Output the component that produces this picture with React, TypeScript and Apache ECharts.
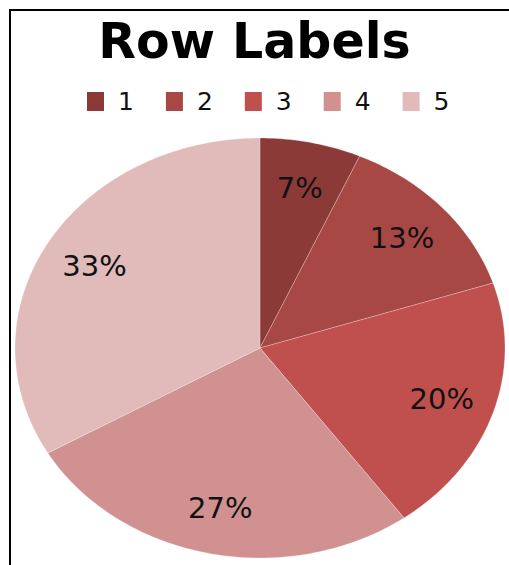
import React, { useEffect, useRef } from "react";
import * as echarts from "echarts";

const CATEGORIES = ["1", "2", "3", "4", "5"];
const VALUES = [1, 2, 3, 4, 5];
const COLORS = ["#8C3A38", "#A84845", "#C0504D", "#D19190", "#E0BBBA"];
const TITLE = "Row Labels";

const CX = 260;
const CY = 348;
const RX = 245;
const RY = 210;
const LABEL_K = 0.78;

export default function App() {
  const ref = useRef<HTMLDivElement>(null);
  useEffect(() => {
    if (!ref.current) return;
    const chart = echarts.init(ref.current, null, { renderer: "svg" });
    const total = VALUES.reduce((a, b) => a + b, 0);
    const series = CATEGORIES.map((name, i) => ({
      type: "custom",
      name,
      coordinateSystem: "none",
      data: [[VALUES[i]]],
      itemStyle: { color: COLORS[i] },
      renderItem: (params: any, api: any) => {
        const v = api.value(0);
        let before = 0;
        for (let j = 0; j < i; j++) before += VALUES[j];
        const a0 = (before / total) * Math.PI * 2;
        const a1 = ((before + v) / total) * Math.PI * 2;
        const pts: number[][] = [[CX, CY]];
        const steps = Math.max(8, Math.ceil(((a1 - a0) * 180) / Math.PI));
        for (let s = 0; s <= steps; s++) {
          const a = a0 + ((a1 - a0) * s) / steps;
          pts.push([CX + RX * Math.sin(a), CY - RY * Math.cos(a)]);
        }
        const am = (a0 + a1) / 2;
        const lx = CX + RX * LABEL_K * Math.sin(am);
        const ly = CY - RY * LABEL_K * Math.cos(am);
        return {
          type: "group",
          children: [
            {
              type: "polygon",
              shape: { points: pts },
              style: {
                fill: COLORS[i],
                stroke: "rgba(255,255,255,0.3)",
                lineWidth: 0.8,
              },
            },
            {
              type: "text",
              x: lx,
              y: ly,
              style: {
                text: Math.round((v / total) * 100) + "%",
                fill: "#111111",
                fontSize: 29,
                fontFamily: "DejaVu Sans",
                align: "center",
                verticalAlign: "middle",
              },
            },
          ],
        };
      },
    }));
    chart.setOption({
      animation: false,
      backgroundColor: "#ffffff",
      title: {
        text: TITLE,
        left: "center",
        top: 17,
        padding: 0,
        textStyle: {
          fontFamily: "DejaVu Sans",
          fontWeight: "bold",
          fontSize: 49,
          color: "#000000",
        },
      },
      legend: {
        data: CATEGORIES,
        left: 87,
        top: 89,
        padding: 0,
        icon: "rect",
        itemWidth: 17,
        itemHeight: 19,
        itemGap: 32,
        textStyle: {
          fontFamily: "DejaVu Sans",
          fontSize: 25,
          color: "#111111",
          padding: [0, 0, 0, 9],
        },
      },
      graphic: [
        {
          type: "rect",
          shape: { x: 10, y: 10, width: 560, height: 620 },
          style: { fill: "none", stroke: "#000000", lineWidth: 2 },
          z: 100,
        },
      ],
      series,
    });
    return () => chart.dispose();
  }, []);
  return (
    <div
      ref={ref}
      style={{ position: "fixed", left: 0, top: 0, width: 509, height: 565 }}
    />
  );
}
